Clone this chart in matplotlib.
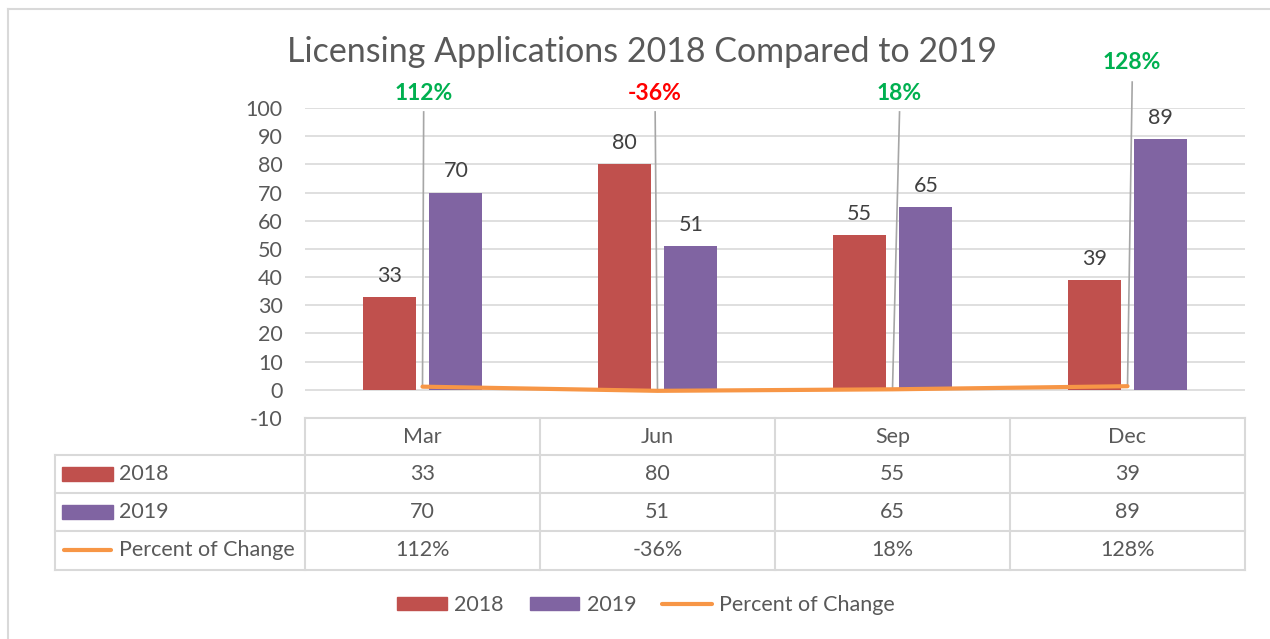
import numpy as np
import matplotlib.pyplot as plt
import matplotlib.transforms as mtransforms
from matplotlib.lines import Line2D
from matplotlib.patches import Rectangle, Patch

# -------------------------------------------------------------------
# DATA
# -------------------------------------------------------------------
months = ["Mar", "Jun", "Sep", "Dec"]
apps_2018 = [33, 80, 55, 39]
apps_2019 = [70, 51, 65, 89]
pct_change = [1.12, -0.36, 0.18, 1.28]
y_ticks = [-10, 0, 10, 20, 30, 40, 50, 60, 70, 80, 90, 100]

TITLE = "Licensing Applications 2018 Compared to 2019"

# -------------------------------------------------------------------
# STYLE
# -------------------------------------------------------------------
plt.rcParams["font.family"] = ["Lato", "DejaVu Sans"]
plt.rcParams["axes.unicode_minus"] = False
C18 = "#C0504D"
C19 = "#8064A2"
CPCT = "#F79646"
GRID = "#D9D9D9"
TXT = "#595959"
LBL = "#404040"
FS = 15.5

W, H = 1270, 639


def fx(x):
    return x / W


def fy(y):
    return 1 - y / H


fig = plt.figure(figsize=(12.7, 6.39), dpi=100)
ax = fig.add_axes([fx(305), fy(418), fx(1245) - fx(305), fy(108) - fy(418)])

x = np.arange(len(months))
bw = 0.225
off = 0.142

ax.bar(x - off, apps_2018, bw, color=C18, zorder=2)
ax.bar(x + off, apps_2019, bw, color=C19, zorder=2)
ax.plot(x, pct_change, color=CPCT, lw=3, solid_capstyle="round", zorder=3)

# value labels above bars
for xi, v in zip(x - off, apps_2018):
    ax.annotate(str(v), (xi, v), xytext=(0, 8), textcoords="offset points",
                ha="center", va="bottom", fontsize=FS, color=LBL)
for xi, v in zip(x + off, apps_2019):
    ax.annotate(str(v), (xi, v), xytext=(0, 8), textcoords="offset points",
                ha="center", va="bottom", fontsize=FS, color=LBL)

# percent labels with leader lines
lab_y = [105.3, 105.3, 105.3, 116.3]
lead_top = [98.6, 98.6, 98.6, 109.2]
lab_dx = [0.005, -0.01, 0.03, 0.02]
for i, p in enumerate(pct_change):
    col = "#00B050" if p >= 0 else "#FF0000"
    ax.text(i + lab_dx[i], lab_y[i], f"{round(p * 100)}%", ha="center", va="center",
            fontsize=16.5, fontweight="bold", color=col, clip_on=False)
    ax.plot([i + lab_dx[i], i], [lead_top[i], p], color="#A6A6A6", lw=1.2,
            clip_on=False, zorder=2.5)

ax.set_xlim(-0.5, 3.5)
ax.set_ylim(-10, 100)
ax.set_yticks(y_ticks)
ax.set_xticks([])
ax.tick_params(axis="y", length=0, pad=16, labelsize=FS, labelcolor=TXT)
for s in ax.spines.values():
    s.set_visible(False)
ax.grid(axis="y", color=GRID, lw=1.2, zorder=0)
ax.set_axisbelow(True)

# -------------------------------------------------------------------
# DATA TABLE
# -------------------------------------------------------------------
trans = mtransforms.blended_transform_factory(ax.transData, fig.transFigure)
for b in np.arange(-0.5, len(months)):
    ax.plot([b, b], [fy(418), fy(570)], color=GRID, lw=1.5, transform=trans,
            clip_on=False)
fig.add_artist(Line2D([fx(305), fx(1245)], [fy(418), fy(418)], color=GRID, lw=1.5))
for ry in [455, 493, 531, 570]:
    fig.add_artist(Line2D([fx(55), fx(1245)], [fy(ry), fy(ry)], color=GRID, lw=1.5))
fig.add_artist(Line2D([fx(55), fx(55)], [fy(455), fy(570)], color=GRID, lw=1.5))

row_y = [474, 512, 550]
for i, m in enumerate(months):
    ax.text(i, fy(437), m, transform=trans, ha="center", va="center",
            fontsize=FS, color=TXT)
    ax.text(i, fy(row_y[0]), str(apps_2018[i]), transform=trans, ha="center",
            va="center", fontsize=FS, color=TXT)
    ax.text(i, fy(row_y[1]), str(apps_2019[i]), transform=trans, ha="center",
            va="center", fontsize=FS, color=TXT)
    ax.text(i, fy(row_y[2]), f"{round(pct_change[i] * 100)}%", transform=trans,
            ha="center", va="center", fontsize=FS, color=TXT)

fig.add_artist(Rectangle((fx(62), fy(481)), fx(51), fy(0) - fy(14), color=C18))
fig.add_artist(Rectangle((fx(62), fy(519)), fx(51), fy(0) - fy(14), color=C19))
fig.add_artist(Line2D([fx(64), fx(111)], [fy(550), fy(550)], color=CPCT, lw=3,
                      solid_capstyle="round"))
for ry, name in zip(row_y, ["2018", "2019", "Percent of Change"]):
    fig.text(fx(119), fy(ry), name, ha="left", va="center", fontsize=FS, color=TXT)

# -------------------------------------------------------------------
# TITLE, LEGEND, BORDER
# -------------------------------------------------------------------
fig.text(fx(642), fy(52), TITLE, ha="center", va="center", fontsize=24.5, color=TXT)

handles = [Patch(color=C18, label="2018"), Patch(color=C19, label="2019"),
           Line2D([], [], color=CPCT, lw=3, solid_capstyle="round",
                  label="Percent of Change")]
fig.legend(handles=handles, loc="center", bbox_to_anchor=(fx(646), fy(605)),
           ncol=3, frameon=False, fontsize=FS, handlelength=2.3,
           handleheight=0.6, handletextpad=0.35, columnspacing=1.2,
           labelcolor=TXT)

fig.add_artist(Line2D([fx(8), 1], [fy(9), fy(9)], color=GRID, lw=1.5))
fig.add_artist(Line2D([fx(8), fx(8)], [fy(9), 0], color=GRID, lw=1.5))

fig.savefig("out.png", dpi=100)
